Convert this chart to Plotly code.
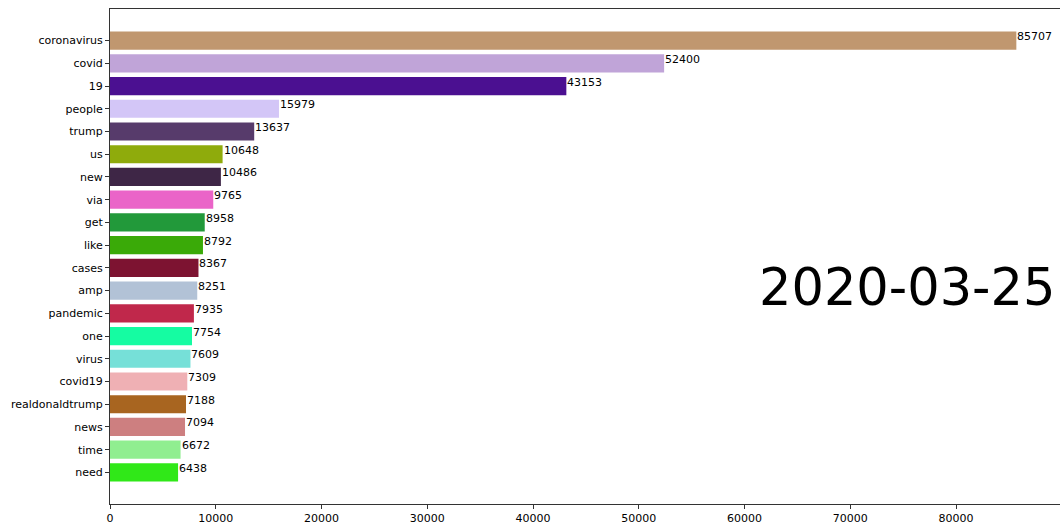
import plotly.graph_objects as go

words = ["coronavirus", "covid", "19", "people", "trump", "us", "new", "via", "get", "like",
         "cases", "amp", "pandemic", "one", "virus", "covid19", "realdonaldtrump", "news", "time", "need"]
counts = [85707, 52400, 43153, 15979, 13637, 10648, 10486, 9765, 8958, 8792,
          8367, 8251, 7935, 7754, 7609, 7309, 7188, 7094, 6672, 6438]
colors = ["#c0976f", "#c0a4d8", "#4b1091", "#d3c6f7", "#573b6b", "#8fab0c", "#3e2646", "#ea64c8",
          "#22993a", "#3aaa08", "#7d1331", "#b2c2d6", "#c0284b", "#15fca2", "#76e0d8", "#efb0b4",
          "#a86520", "#cd7f80", "#90ee90", "#30e818"]
date_label = "2020-03-25"
x_ticks = [0, 10000, 20000, 30000, 40000, 50000, 60000, 70000, 80000]

fig = go.Figure()
fig.add_trace(go.Bar(
    x=counts, y=words, orientation="h",
    marker=dict(color=colors, line=dict(width=0)),
    hoverinfo="skip",
))

for i, c in enumerate(counts):
    fig.add_annotation(x=c, y=i, text=str(c), showarrow=False, xanchor="left",
                       yanchor="middle", yshift=4, xshift=-1,
                       font=dict(family="DejaVu Sans", size=11, color="#000000"))

fig.add_annotation(xref="paper", yref="paper", x=0.9968, y=0.438, text=date_label,
                   showarrow=False, xanchor="right", yanchor="middle",
                   font=dict(family="DejaVu Sans", size=51, color="#000000"))

fig.update_layout(
    width=1060, height=523,
    margin=dict(l=110, r=0, t=9, b=19),
    paper_bgcolor="white", plot_bgcolor="white",
    bargap=0.2, showlegend=False,
    font=dict(family="DejaVu Sans", size=11, color="#000000"),
)
fig.update_xaxes(range=[0, 89835], tickvals=x_ticks, ticktext=[str(t) for t in x_ticks],
                 showgrid=False, zeroline=False, showline=True, linecolor="#333333",
                 linewidth=1, mirror=True, ticks="outside", ticklen=4, tickcolor="#333333",
                 automargin=False)
fig.update_yaxes(type="category", categoryorder="array", categoryarray=words,
                 range=[20.39, -1.39], showgrid=False, zeroline=False, showline=True,
                 linecolor="#333333", linewidth=1, ticks="outside", ticklen=4,
                 tickcolor="#333333", automargin=False)

fig.write_html("out.html", config={"displayModeBar": False},
               post_script="document.body.style.margin='0';document.body.style.overflow='hidden';")
